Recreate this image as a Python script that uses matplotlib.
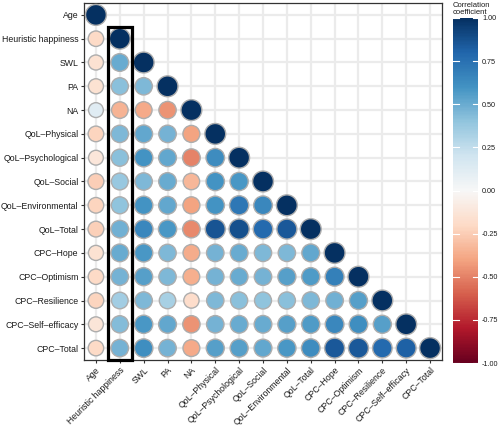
import numpy as np
import matplotlib
matplotlib.use("Agg")
import matplotlib.pyplot as plt
from matplotlib.patches import Rectangle
from matplotlib.colors import Normalize
import matplotlib.cm as cm

plt.rcParams['font.family'] = ['Liberation Sans', 'DejaVu Sans']
plt.rcParams['axes.unicode_minus'] = False

labels = ["Age", "Heuristic happiness", "SWL", "PA", "NA",
          "QoL\u2013Physical", "QoL\u2013Psychological", "QoL\u2013Social",
          "QoL\u2013Environmental", "QoL\u2013Total", "CPC\u2013Hope",
          "CPC\u2013Optimism", "CPC\u2013Resilience", "CPC\u2013Self\u2013efficacy",
          "CPC\u2013Total"]

# lower-triangle correlations, row i has i+1 values (columns 0..i)
r_age = [1.0]
r_hh = [-0.20, 1.0]
r_swl = [-0.15, 0.50, 1.0]
r_pa = [-0.15, 0.42, 0.45, 1.0]
r_na = [0.12, -0.35, -0.38, -0.45, 1.0]
r_qphys = [-0.22, 0.45, 0.52, 0.47, -0.40, 1.0]
r_qpsy = [-0.12, 0.42, 0.60, 0.52, -0.50, 0.63, 1.0]
r_qsoc = [-0.25, 0.38, 0.45, 0.50, -0.33, 0.60, 0.58, 1.0]
r_qenv = [-0.22, 0.40, 0.60, 0.52, -0.40, 0.60, 0.72, 0.65, 1.0]
r_qtot = [-0.24, 0.48, 0.65, 0.58, -0.48, 0.86, 0.88, 0.78, 0.85, 1.0]
r_hope = [-0.15, 0.50, 0.58, 0.45, -0.37, 0.47, 0.50, 0.45, 0.45, 0.52, 1.0]
r_opt = [-0.20, 0.47, 0.55, 0.45, -0.36, 0.47, 0.50, 0.47, 0.55, 0.57, 0.68, 1.0]
r_res = [-0.22, 0.35, 0.45, 0.33, -0.18, 0.45, 0.42, 0.40, 0.42, 0.45, 0.48, 0.55, 1.0]
r_self = [-0.13, 0.43, 0.58, 0.52, -0.45, 0.47, 0.50, 0.50, 0.55, 0.57, 0.65, 0.62, 0.55, 1.0]
r_ctot = [-0.20, 0.47, 0.62, 0.47, -0.38, 0.55, 0.55, 0.52, 0.58, 0.63, 0.85, 0.85, 0.78, 0.82, 1.0]

rows = [r_age, r_hh, r_swl, r_pa, r_na, r_qphys, r_qpsy, r_qsoc, r_qenv,
        r_qtot, r_hope, r_opt, r_res, r_self, r_ctot]

cb_ticks = [-1.0, -0.75, -0.5, -0.25, 0.0, 0.25, 0.5, 0.75, 1.0]

W, H = 501, 425
fig = plt.figure(figsize=(W / 100, H / 100), dpi=100)
ax = fig.add_axes([84 / W, (H - 360) / H, 358 / W, 357 / H])

n = len(labels)
xs, ys, vs = [], [], []
for i, row in enumerate(rows):
    for j, v in enumerate(row):
        xs.append(j)
        ys.append(i)
        vs.append(v)
xs = np.array(xs); ys = np.array(ys); vs = np.array(vs)

cmap = plt.get_cmap('RdBu')
norm = Normalize(-1, 1)
sizes = 0.5184 * (190 + 245 * np.abs(vs))

for k in range(n):
    ax.axvline(k, color='#EBEBEB', lw=1.6, zorder=0)
    ax.axhline(k, color='#EBEBEB', lw=1.6, zorder=0)

ax.scatter(xs, ys, s=sizes, c=vs, cmap=cmap, norm=norm,
           edgecolors='#ADADAD', linewidths=1.0, zorder=3)

ax.set_xlim(-0.5, n - 0.5)
ax.set_ylim(n - 0.5, -0.5)
ax.set_xticks(range(n))
ax.set_yticks(range(n))
ax.set_xticklabels(labels, rotation=45, ha='right', rotation_mode='anchor',
                   fontsize=6.3, color='#1A1A1A')
ax.set_yticklabels(labels, fontsize=6.3, color='#1A1A1A')
ax.tick_params(length=2.5, width=0.8, color='#333333', pad=1.5)
for sp in ax.spines.values():
    sp.set_color('#333333')
    sp.set_linewidth(0.9)

rect = Rectangle((0.5, 0.5), 1.0, 14.0, fill=False, edgecolor='black',
                 lw=2.3, zorder=5, clip_on=False)
ax.add_patch(rect)

# colorbar
cax = fig.add_axes([453 / W, (H - 363) / H, 25 / W, 345 / H])
sm = cm.ScalarMappable(norm=norm, cmap=cmap)
cb = fig.colorbar(sm, cax=cax, ticks=cb_ticks)
cb.outline.set_visible(False)
cb.ax.set_yticklabels([f"{t:.2f}" for t in cb_ticks], fontsize=5.2, color='#1A1A1A')
cb.ax.tick_params(length=0, pad=3)
for t in cb_ticks:
    cax.plot([0, 0.22], [t, t], color='white', lw=0.8, transform=cax.get_yaxis_transform())
    cax.plot([0.78, 1.0], [t, t], color='white', lw=0.8, transform=cax.get_yaxis_transform())
fig.text(453 / W, (H - 2) / H, "Correlation\ncoefficient", fontsize=5.5,
         ha='left', va='top', color='#1A1A1A', linespacing=0.95)

fig.savefig("out.png", dpi=100)
